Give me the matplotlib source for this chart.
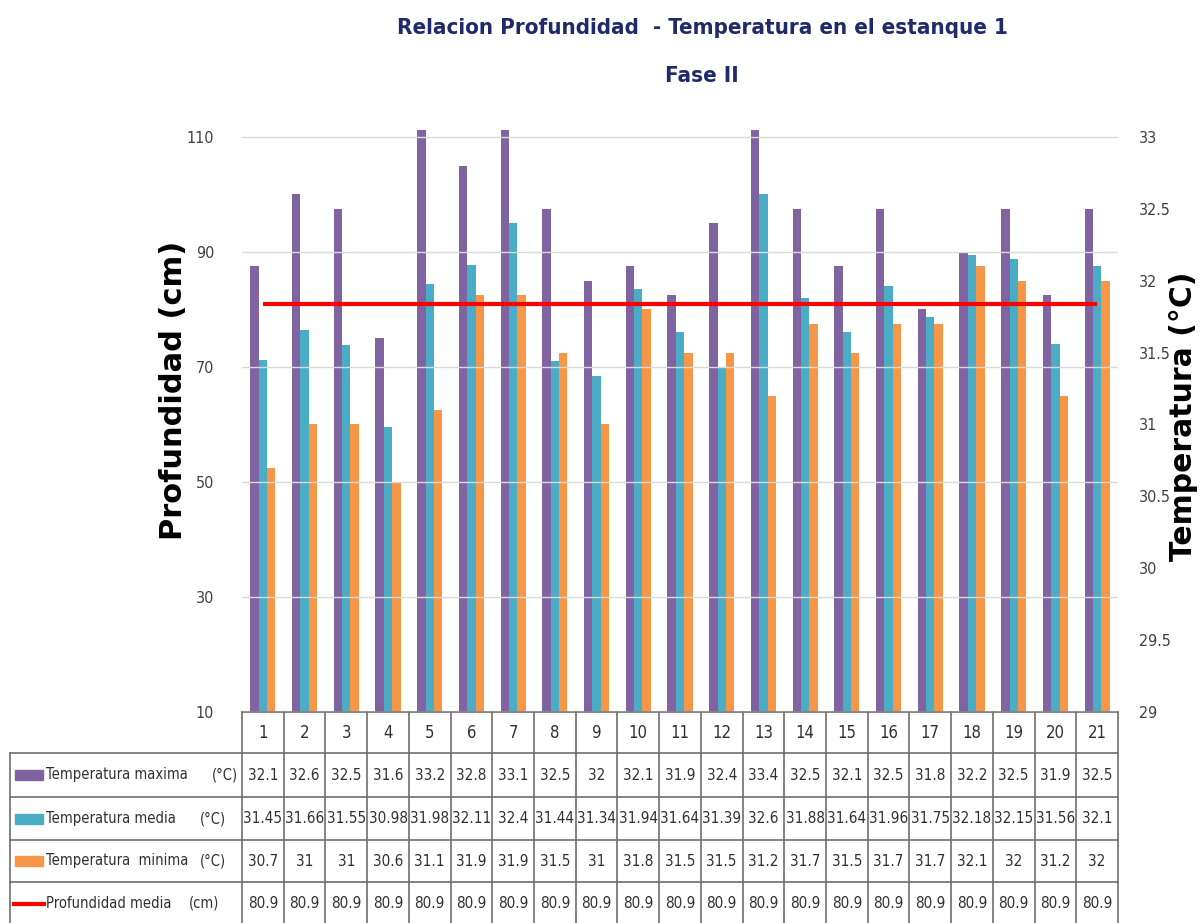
import matplotlib
matplotlib.use("Agg")
import matplotlib.pyplot as plt
from matplotlib.lines import Line2D
from matplotlib.patches import Rectangle

categories = [str(i) for i in range(1, 22)]
temp_max = [32.1, 32.6, 32.5, 31.6, 33.2, 32.8, 33.1, 32.5, 32.0, 32.1, 31.9,
            32.4, 33.4, 32.5, 32.1, 32.5, 31.8, 32.2, 32.5, 31.9, 32.5]
temp_med = [31.45, 31.66, 31.55, 30.98, 31.98, 32.11, 32.4, 31.44, 31.34, 31.94, 31.64,
            31.39, 32.6, 31.88, 31.64, 31.96, 31.75, 32.18, 32.15, 31.56, 32.1]
temp_min = [30.7, 31.0, 31.0, 30.6, 31.1, 31.9, 31.9, 31.5, 31.0, 31.8, 31.5,
            31.5, 31.2, 31.7, 31.5, 31.7, 31.7, 32.1, 32.0, 31.2, 32.0]
prof_media = [80.9] * 21

max_lbl = ["32.1", "32.6", "32.5", "31.6", "33.2", "32.8", "33.1", "32.5", "32", "32.1", "31.9",
           "32.4", "33.4", "32.5", "32.1", "32.5", "31.8", "32.2", "32.5", "31.9", "32.5"]
med_lbl = ["31.45", "31.66", "31.55", "30.98", "31.98", "32.11", "32.4", "31.44", "31.34", "31.94", "31.64",
           "31.39", "32.6", "31.88", "31.64", "31.96", "31.75", "32.18", "32.15", "31.56", "32.1"]
min_lbl = ["30.7", "31", "31", "30.6", "31.1", "31.9", "31.9", "31.5", "31", "31.8", "31.5",
           "31.5", "31.2", "31.7", "31.5", "31.7", "31.7", "32.1", "32", "31.2", "32"]
prof_lbl = ["80.9"] * 21

series_names = ["Temperatura maxima", "Temperatura media", "Temperatura  minima", "Profundidad media"]
series_units = ["(°C)", "(°C)", "(°C)", "(cm)"]
left_ticks = [10, 30, 50, 70, 90, 110]
right_ticks = [29, 29.5, 30, 30.5, 31, 31.5, 32, 32.5, 33]
right_tick_lbls = ["29", "29.5", "30", "30.5", "31", "31.5", "32", "32.5", "33"]

C_MAX = "#8064A2"
C_MED = "#4BACC6"
C_MIN = "#F79646"
C_RED = "#FF0000"
TXT = "#303030"
COND = dict(family="DejaVu Sans", fontstretch="condensed")

W, H = 1204, 923
fig = plt.figure(figsize=(W / 100, H / 100), dpi=100)

def fx(px):
    return px / W

def fy(py):
    return 1 - py / H

x0, x1 = 242, 1118
ytop, ybot = 130, 712
ax = fig.add_axes([fx(x0), fy(ybot), fx(x1) - fx(x0), fy(ytop) - fy(ybot)])
ax2 = ax.twinx()

xs = list(range(1, 22))
bw = 0.2
ax2.bar([x - bw for x in xs], temp_max, width=bw, color=C_MAX, zorder=2)
ax2.bar(xs, temp_med, width=bw, color=C_MED, zorder=2)
ax2.bar([x + bw for x in xs], temp_min, width=bw, color=C_MIN, zorder=2)
ax2.set_ylim(29, 33.048)
ax2.set_yticks(right_ticks)
ax2.set_yticklabels(right_tick_lbls, fontsize=11.5, color="#404040", **COND)

ax.set_ylim(10, 111.2)
ax.set_xlim(0.5, 21.5)
ax.set_yticks(left_ticks)
ax.set_yticklabels([str(t) for t in left_ticks], fontsize=11.5, color="#404040", **COND)
ax.grid(axis="y", color="#D9D9D9", linewidth=1)
ax.set_axisbelow(True)
ax.set_xticks([])
ax.set_zorder(ax2.get_zorder() + 1)
ax.patch.set_visible(False)
ax.plot(xs, prof_media, color=C_RED, linewidth=3, solid_capstyle="butt", zorder=5)

for a in (ax, ax2):
    for s in a.spines.values():
        s.set_visible(False)
    a.tick_params(length=0)
ax.tick_params(axis="y", pad=20)
ax2.tick_params(axis="y", pad=15)

fig.text(fx(173), fy(390), "Profundidad (cm)", rotation=90, ha="center", va="center",
         fontsize=22, fontweight="bold", family="DejaVu Sans", color="black")
fig.text(fx(1184), fy(416), "Temperatura (°C)", rotation=90, ha="center", va="center",
         fontsize=21.5, fontweight="bold", family="DejaVu Sans", color="black")

fig.text(fx(702), fy(28), "Relacion Profundidad  - Temperatura en el estanque 1", ha="center", va="center",
         fontsize=16, fontweight="bold", color="#1F2A6B", **COND)
fig.text(fx(702), fy(76), "Fase II", ha="center", va="center",
         fontsize=16, fontweight="bold", color="#1F2A6B", **COND)

# data table
tax = fig.add_axes([0, 0, 1, 1])
tax.set_xlim(0, W)
tax.set_ylim(H, 0)
tax.axis("off")
colw = (x1 - x0) / 21
row_y = [712, 753, 797, 840, 882, 925]
lc = "#6E6E6E"
for i in range(22):
    xv = x0 + i * colw
    tax.add_line(Line2D([xv, xv], [712, 925], color=lc, linewidth=1.2))
tax.add_line(Line2D([10, 10], [753, 925], color=lc, linewidth=1.2))
tax.add_line(Line2D([x0, x1], [712, 712], color=lc, linewidth=1.2))
for yv in row_y[1:5]:
    tax.add_line(Line2D([10, x1], [yv, yv], color=lc, linewidth=1.2))

for i, c in enumerate(categories):
    tax.text(x0 + (i + 0.5) * colw, 733, c, ha="center", va="center",
             fontsize=12, color=TXT, **COND)

rows = [max_lbl, med_lbl, min_lbl, prof_lbl]
unit_x = [238, 226, 226, 219]
colors = [C_MAX, C_MED, C_MIN]
for r, lbls in enumerate(rows):
    yc = (row_y[r + 1] + row_y[r + 2]) / 2
    for i, t in enumerate(lbls):
        tax.text(x0 + (i + 0.5) * colw, yc, t, ha="center", va="center",
                 fontsize=11, color=TXT, **COND)
    if r < 3:
        tax.add_patch(Rectangle((15, yc - 5), 28, 10, color=colors[r]))
    else:
        tax.add_line(Line2D([14, 44], [yc, yc], color=C_RED, linewidth=3))
    tax.text(46, yc, series_names[r], ha="left", va="center",
             fontsize=10.5, color=TXT, **COND)
    tax.text(unit_x[r], yc, series_units[r], ha="right", va="center",
             fontsize=10.5, color=TXT, **COND)

fig.savefig("out.png", dpi=100)
